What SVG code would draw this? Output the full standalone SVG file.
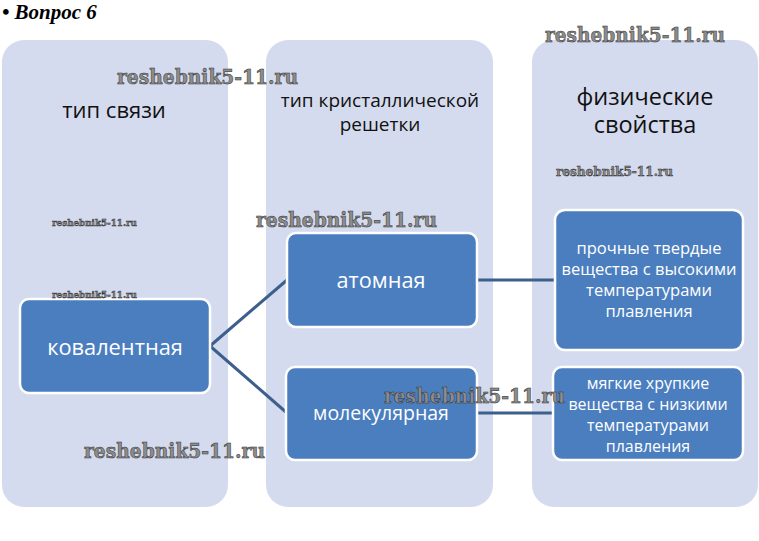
<svg xmlns="http://www.w3.org/2000/svg" width="759" height="541" viewBox="0 0 759 541">
<style>
.col{fill:#d5dbee;}
.node{fill:#4a7ebf;stroke:#ffffff;stroke-width:2.5;}
.hdr{font-family:"Open Sans","Liberation Sans",sans-serif;fill:#111;text-anchor:middle;}
.nt{font-family:"Open Sans","Liberation Sans",sans-serif;fill:#ffffff;text-anchor:middle;}
.wm{font-family:"DejaVu Serif","Liberation Serif",serif;font-weight:bold;fill:#8c8c8c;stroke:#2e2e2e;stroke-width:0.5;}
.con{stroke:#3c5f8c;stroke-width:3;fill:none;}
</style>
<rect width="759" height="541" fill="#ffffff"/>
<text x="2" y="19" font-family="Liberation Serif,serif" font-size="21" font-weight="bold" font-style="italic" fill="#000">• Вопрос 6</text>
<g id="col1"><rect class="col" x="2" y="40" width="226" height="467" rx="22"/><text class="hdr" x="114" y="118" font-size="22">тип связи</text></g>
<g id="col2"><rect class="col" x="266" y="40" width="227" height="467" rx="22"/><text class="hdr" x="380" y="107" font-size="19">тип кристаллической</text><text class="hdr" x="380" y="131" font-size="19">решетки</text></g>
<g id="col3"><rect class="col" x="532" y="40" width="226" height="467" rx="22"/><text class="hdr" x="645" y="105" font-size="23.5">физические</text><text class="hdr" x="645" y="133" font-size="23.5">свойства</text></g>
<g id="connectors">
<line class="con" x1="210" y1="346" x2="287" y2="280"/>
<line class="con" x1="210" y1="346" x2="287" y2="413"/>
<line class="con" x1="477" y1="280" x2="555" y2="280"/>
<line class="con" x1="477" y1="413" x2="553" y2="413"/>
</g>
<g id="kovalent"><rect class="node" x="20" y="299" width="190" height="94" rx="9"/><text class="nt" x="115" y="355" font-size="21.8">ковалентная</text></g>
<g id="atom"><rect class="node" x="287" y="233" width="190" height="94" rx="9"/><text class="nt" x="381" y="288" font-size="21.7">атомная</text></g>
<g id="molek"><rect class="node" x="286" y="367" width="191" height="93" rx="9"/><text class="nt" x="381" y="420" font-size="19.5">молекулярная</text></g>
<g id="prochnye"><rect class="node" x="555" y="210" width="188" height="140" rx="10"/>
<text class="nt" font-size="16.5"><tspan x="649" y="254">прочные твердые</tspan><tspan x="649" y="275">вещества с высокими</tspan><tspan x="649" y="296">температурами</tspan><tspan x="649" y="317">плавления</tspan></text></g>
<g id="myagkie"><rect class="node" x="553" y="367" width="190" height="93" rx="9"/>
<text class="nt" font-size="16"><tspan x="648" y="389">мягкие хрупкие</tspan><tspan x="648" y="410">вещества с низкими</tspan><tspan x="648" y="431">температурами</tspan><tspan x="648" y="452">плавления</tspan></text></g>
<g id="watermarks">
<text class="wm" x="545" y="42" font-size="20" textLength="180" lengthAdjust="spacingAndGlyphs">reshebnik5-11.ru</text>
<text class="wm" x="117" y="84" font-size="20" textLength="181" lengthAdjust="spacingAndGlyphs">reshebnik5-11.ru</text>
<text class="wm" x="556" y="176" font-size="13" textLength="117" lengthAdjust="spacingAndGlyphs" stroke-width="0.3">reshebnik5-11.ru</text>
<text class="wm" x="52" y="226" font-size="10" textLength="85" lengthAdjust="spacingAndGlyphs" stroke-width="0.3">reshebnik5-11.ru</text>
<text class="wm" x="256" y="227" font-size="20" textLength="181" lengthAdjust="spacingAndGlyphs">reshebnik5-11.ru</text>
<text class="wm" x="52" y="298" font-size="10" textLength="85" lengthAdjust="spacingAndGlyphs" stroke-width="0.3">reshebnik5-11.ru</text>
<text class="wm" x="384" y="403" font-size="20" textLength="181" lengthAdjust="spacingAndGlyphs">reshebnik5-11.ru</text>
<text class="wm" x="84" y="458" font-size="20" textLength="181" lengthAdjust="spacingAndGlyphs">reshebnik5-11.ru</text>
</g>
</svg>
